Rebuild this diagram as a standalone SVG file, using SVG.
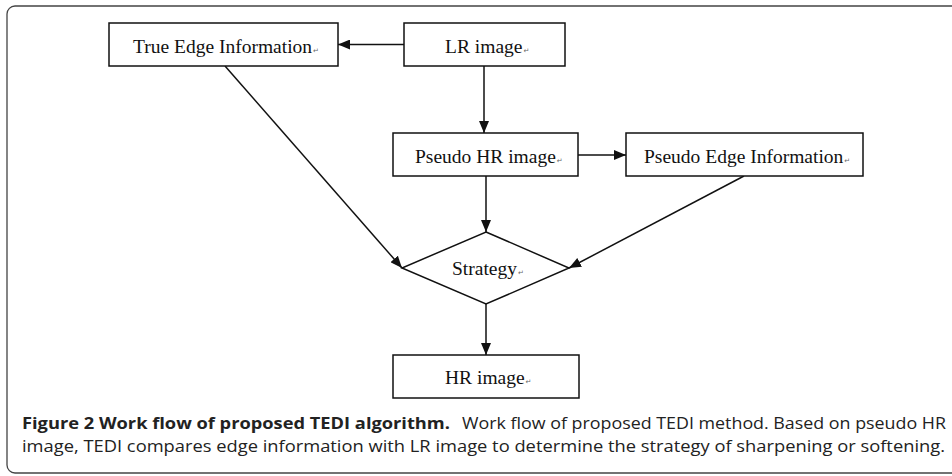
<svg xmlns="http://www.w3.org/2000/svg" width="952" height="476" viewBox="0 0 952 476">
<style>
.box{fill:#fff;stroke:#111;stroke-width:1.5}
.lbl{font-family:"Liberation Serif","Times New Roman",serif;font-size:19.5px;fill:#111}
.pm{font-family:"DejaVu Sans",sans-serif;font-size:7px;fill:#666}
.edge{stroke:#111;stroke-width:1.5;fill:none;marker-end:url(#ah)}
.cap{font-family:"Open Sans","Liberation Sans",sans-serif;font-size:16.5px;fill:#222}
</style>
<defs>
<marker id="ah" markerUnits="userSpaceOnUse" markerWidth="12" markerHeight="10" refX="12" refY="5" orient="auto" viewBox="0 0 12 10">
<path d="M0,0 L12,5 L0,10 z" fill="#111"/>
</marker>
</defs>
<rect width="952" height="476" fill="#fff"/>
<rect x="7" y="6" width="960" height="467" rx="8" ry="8" fill="none" stroke="#444" stroke-width="1.3"/>
<g id="connectors">
<line class="edge" x1="404" y1="44.5" x2="338" y2="44.5"/>
<line class="edge" x1="484" y1="66" x2="484" y2="133"/>
<line class="edge" x1="578" y1="155" x2="626" y2="155"/>
<line class="edge" x1="486" y1="176" x2="486" y2="232"/>
<line class="edge" x1="225" y1="66" x2="402" y2="268"/>
<line class="edge" x1="744" y1="176" x2="569" y2="268"/>
<line class="edge" x1="486" y1="304" x2="486" y2="355"/>
</g>
<g id="true-edge">
<rect class="box" x="109" y="23" width="229" height="43"/>
<text class="lbl" x="133" y="53">True Edge Information<tspan class="pm" dx="1">↵</tspan></text>
</g>
<g id="lr-image">
<rect class="box" x="404" y="23" width="161" height="43"/>
<text class="lbl" x="445" y="53">LR image<tspan class="pm" dx="1">↵</tspan></text>
</g>
<g id="pseudo-hr">
<rect class="box" x="393" y="133" width="185" height="43"/>
<text class="lbl" x="415" y="163">Pseudo HR image<tspan class="pm" dx="1">↵</tspan></text>
</g>
<g id="pseudo-edge">
<rect class="box" x="626" y="133" width="237" height="43"/>
<text class="lbl" x="644" y="163">Pseudo Edge Information<tspan class="pm" dx="1">↵</tspan></text>
</g>
<g id="strategy">
<polygon class="box" points="486,232 569,268 486,304 402,268"/>
<text class="lbl" x="452" y="275">Strategy<tspan class="pm" dx="1">↵</tspan></text>
</g>
<g id="hr-image">
<rect class="box" x="393" y="355" width="186" height="43"/>
<text class="lbl" x="445" y="384">HR image<tspan class="pm" dx="1">↵</tspan></text>
</g>
<g id="caption">
<text class="cap" x="22" y="429" font-weight="bold" fill="#111" textLength="428" lengthAdjust="spacingAndGlyphs">Figure 2 Work flow of proposed TEDI algorithm.</text>
<text class="cap" x="462" y="429" textLength="484" lengthAdjust="spacingAndGlyphs">Work flow of proposed TEDI method. Based on pseudo HR</text>
<text class="cap" x="22" y="452" textLength="923" lengthAdjust="spacingAndGlyphs">image, TEDI compares edge information with LR image to determine the strategy of sharpening or softening.</text>
</g>
</svg>
